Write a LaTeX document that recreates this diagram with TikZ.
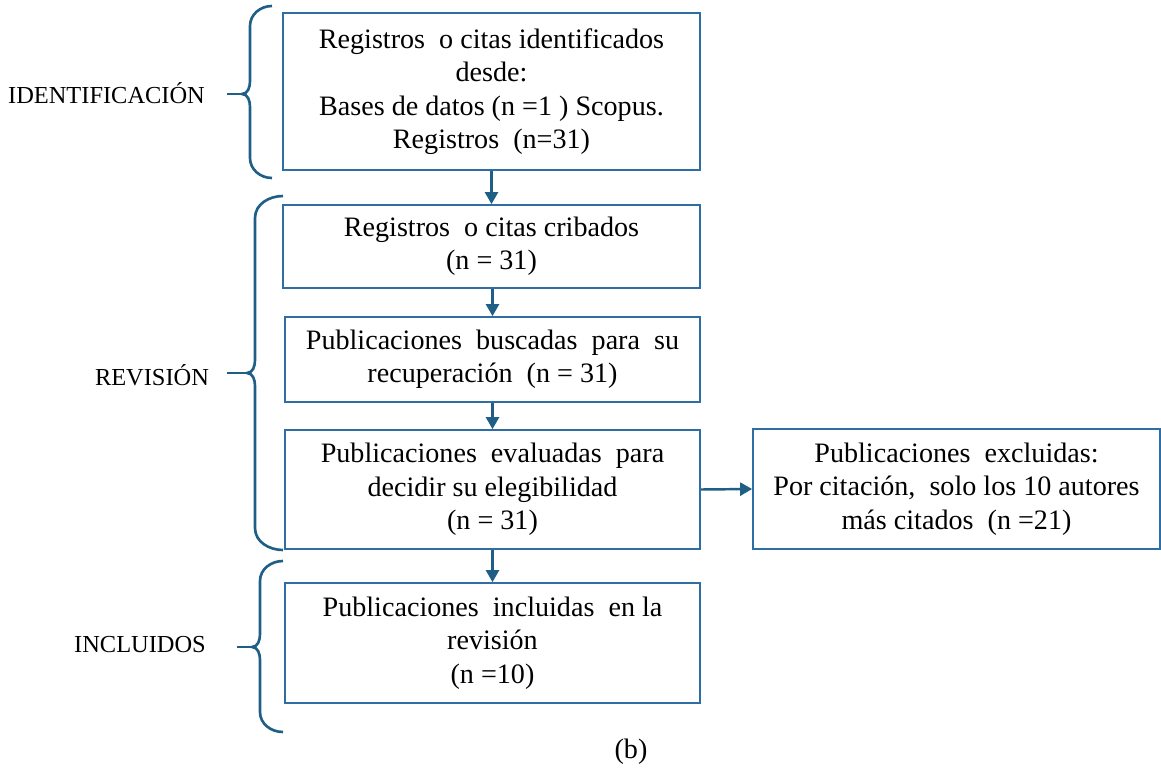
\documentclass[tikz,border=0pt]{standalone}
\usepackage{fontspec}
\setmainfont{Liberation Serif}
\usepackage{xcolor}
\usepackage{tikz}
\usetikzlibrary{arrows.meta}
\definecolor{boxblue}{RGB}{46, 110, 165}
\definecolor{linkblue}{RGB}{31, 95, 135}

\begin{document}
\begin{tikzpicture}[
    txt/.style={font=\fontsize{13.9}{18.8}\selectfont, inner sep=0pt},
    stage/.style={font=\fontsize{16}{19}\selectfont, inner sep=0pt, draw=boxblue, line width=1pt, align=center},
    flow/.style={-{Triangle[length=2.4mm,width=2.6mm]}, linkblue, line width=1.4pt},
    phase/.style={linkblue, line width=1.5pt}
  ]
    \useasboundingbox (0,0) rectangle (23.22,-15.42);

    % Flow boxes
    \node[stage, minimum width=8.34cm, minimum height=3.14cm] (ident) at (9.83,-1.83)
        {Registros \ o citas identificados\\desde:\\Bases de datos (n =1 ) Scopus.\\Registros \ (n=31)};
    \node[stage, minimum width=8.34cm, minimum height=1.66cm] (cribados) at (9.83,-4.93)
        {Registros \ o citas cribados\\(n = 31)};
    \node[stage, minimum width=8.30cm, minimum height=1.70cm] (buscadas) at (9.85,-7.19)
        {Publicaciones \ buscadas \ para \ su\\recuperación \ (n = 31)};
    \node[stage, minimum width=8.30cm, minimum height=2.38cm] (evaluadas) at (9.85,-9.79)
        {Publicaciones \ evaluadas \ para\\decidir su elegibilidad\\(n = 31)};
    \node[stage, minimum width=8.14cm, minimum height=2.40cm] (excluidas) at (19.13,-9.78)
        {Publicaciones \ excluidas:\\Por citación, \ solo los 10 autores\\más citados \ (n =21)};
    \node[stage, minimum width=8.30cm, minimum height=2.40cm] (incluidas) at (9.85,-12.86)
        {Publicaciones \ incluidas \ en la\\revisión\\(n =10)};

    % Arrows between boxes
    \draw[flow] (ident.south) -- (ident.south |- cribados.north);
    \draw[flow] (cribados.south -| buscadas.north) -- (buscadas.north);
    \draw[flow] (buscadas.south) -- (evaluadas.north);
    \draw[flow] (evaluadas.south) -- (incluidas.north);
    \draw[flow] (evaluadas.east) -- (excluidas.west);

    % Phase braces
    \coordinate (identEnd) at (4.54,-1.88);
    \coordinate (revEnd) at (4.54,-7.46);
    \coordinate (inclEnd) at (4.74,-12.94);

    \draw[phase] (5.44,-0.12) to[out=180,in=90] (5.00,-0.52) -- (5.00,-1.62)
        to[out=-90,in=0] (4.84,-1.88) to[out=0,in=90] (5.00,-2.14) -- (5.00,-3.16)
        to[out=-90,in=180] (5.44,-3.56);
    \draw[phase] (4.84,-1.88) -- (identEnd);

    \draw[phase] (5.66,-3.92) to[out=180,in=90] (5.10,-4.36) -- (5.10,-7.20)
        to[out=-90,in=0] (4.94,-7.46) to[out=0,in=90] (5.10,-7.72) -- (5.10,-10.56)
        to[out=-90,in=180] (5.66,-11.00);
    \draw[phase] (4.94,-7.46) -- (revEnd);

    \draw[phase] (5.66,-11.22) to[out=180,in=90] (5.20,-11.62) -- (5.20,-12.68)
        to[out=-90,in=0] (5.04,-12.94) to[out=0,in=90] (5.20,-13.20) -- (5.20,-14.24)
        to[out=-90,in=180] (5.66,-14.64);
    \draw[phase] (5.04,-12.94) -- (inclEnd);

    % Phase labels
    \node[txt] (lblIdent) at (2.13,-1.86) {IDENTIFICACIÓN};
    \node[txt] (lblRev) at (3.04,-7.50) {REVISIÓN};
    \node[txt] (lblIncl) at (2.80,-12.90) {INCLUIDOS};

    \node[txt, font=\fontsize{16}{18.8}\selectfont] (caption) at (12.62,-15.04) {(b)};
\end{tikzpicture}
\end{document}
